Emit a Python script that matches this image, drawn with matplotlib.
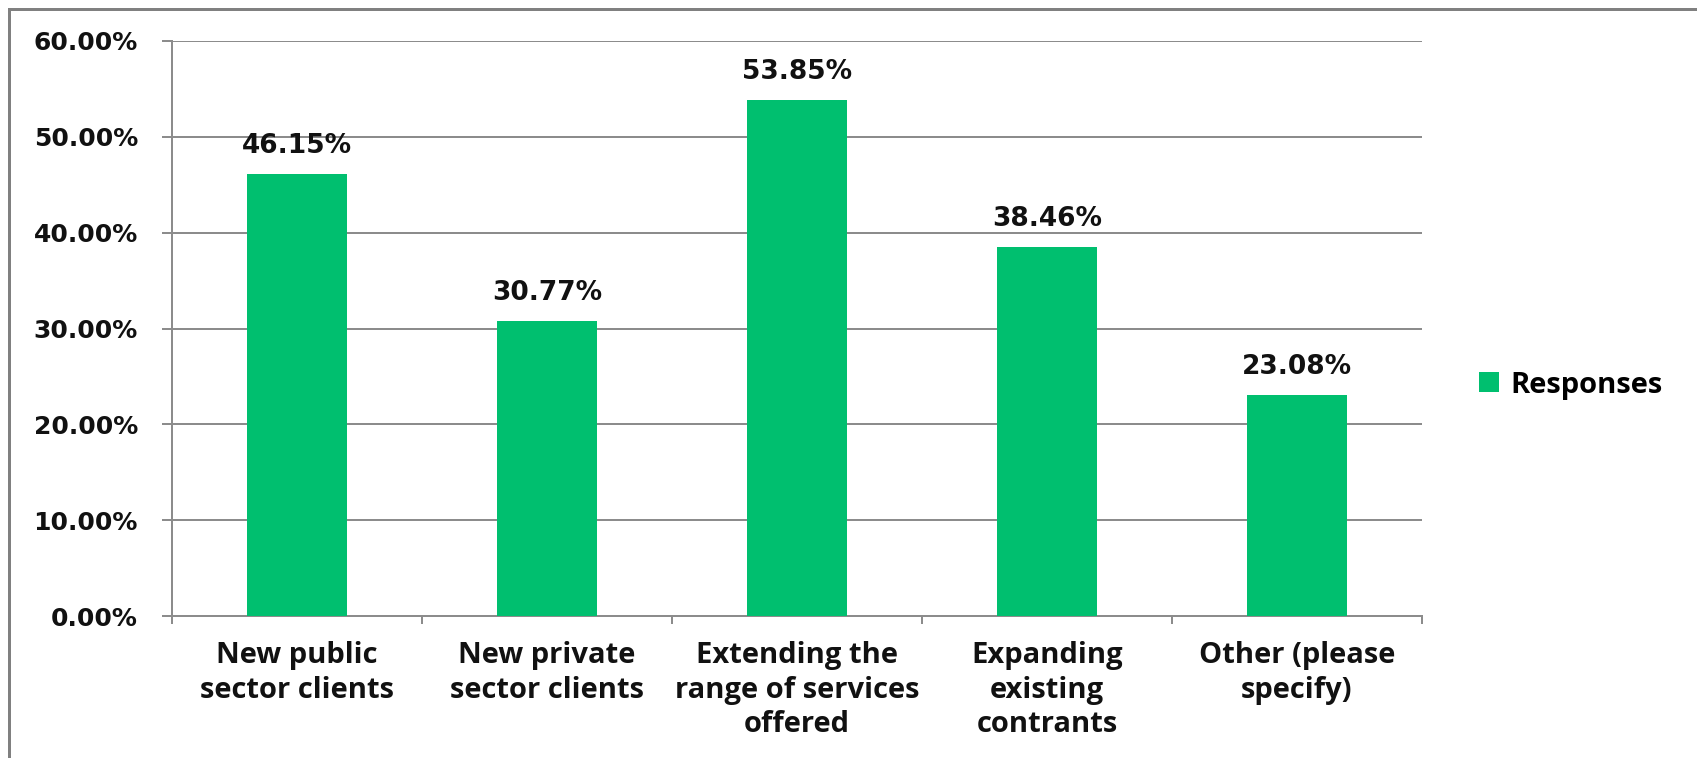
#!/usr/bin/env python3
"""Growth areas survey: share of responses per category."""

import matplotlib
matplotlib.use("Agg")
import matplotlib.pyplot as plt
from matplotlib.lines import Line2D
from matplotlib.ticker import FixedLocator, PercentFormatter
import numpy as np

categories = [
    "New public\nsector clients",
    "New private\nsector clients",
    "Extending the\nrange of services\noffered",
    "Expanding\nexisting\ncontrants",
    "Other (please\nspecify)",
]
responses = [46.15, 30.77, 53.85, 38.46, 23.08]
y_ticks = [0, 10, 20, 30, 40, 50, 60]

BAR_COLOR = "#00BF6F"
GRID_COLOR = "#8C8C8C"
NUM_FONT = "DejaVu Sans"
LABEL_FONT = "Open Sans"

W, H = 1697, 758
PX = 72 / 100  # points per pixel at dpi=100

fig = plt.figure(figsize=(W / 100, H / 100), dpi=100)
ax = fig.add_axes([172 / W, 1 - 616 / H, (1422 - 172) / W, (616 - 41) / H])

x = np.arange(len(categories))
bars = ax.bar(x, responses, width=0.4, color=BAR_COLOR, zorder=3, label="Responses")

ax.set_xlim(-0.5, len(categories) - 0.5)
ax.set_ylim(0, 60)

# value labels above bars
for rect, val in zip(bars, responses):
    ax.annotate(f"{val:.2f}%", (rect.get_x() + rect.get_width() / 2, val),
                xytext=(0, 21), textcoords="offset pixels", ha="center", va="baseline",
                fontsize=19, fontweight="bold", family=NUM_FONT, color="#111111")

# y axis: percentage ticks and gridlines
ax.yaxis.set_major_locator(FixedLocator(y_ticks))
ax.yaxis.set_major_formatter(PercentFormatter(decimals=2))
ax.grid(axis="y", color=GRID_COLOR, linewidth=2 * PX, zorder=0)
ax.tick_params(axis="y", length=10 * PX, width=2 * PX, color=GRID_COLOR, pad=24 * PX)
for lab in ax.get_yticklabels():
    lab.set_fontsize(18)
    lab.set_fontweight("bold")
    lab.set_family(NUM_FONT)
    lab.set_color("#111111")

# x axis: ticks between categories, labels at category centres
ax.xaxis.set_major_locator(FixedLocator(np.arange(len(categories) + 1) - 0.5))
ax.xaxis.set_major_formatter(plt.NullFormatter())
ax.xaxis.set_minor_locator(FixedLocator(x))
ax.set_xticklabels(categories, minor=True)
ax.tick_params(axis="x", which="major", length=8 * PX, width=2 * PX, color=GRID_COLOR)
ax.tick_params(axis="x", which="minor", length=0, pad=25 * PX)
for lab in ax.get_xticklabels(minor=True):
    lab.set_fontsize(21)
    lab.set_fontweight("bold")
    lab.set_family(LABEL_FONT)
    lab.set_color("#111111")
    lab.set_linespacing(1.26)
    lab.set_verticalalignment("top")

for side in ("top", "right"):
    ax.spines[side].set_visible(False)
for side in ("left", "bottom"):
    ax.spines[side].set_color(GRID_COLOR)
    ax.spines[side].set_linewidth(2 * PX)

leg = fig.legend(handles=[bars], labels=["Responses"], loc="center left",
                 bbox_to_anchor=(1479 / W, 1 - 385 / H), frameon=False,
                 handlelength=0.69, handleheight=0.69, handletextpad=0.38,
                 borderaxespad=0, borderpad=0,
                 prop={"family": LABEL_FONT, "weight": "bold", "size": 21})

# outer chart frame (left and top edges)
fig.add_artist(Line2D([9 / W, 9 / W], [0, 1 - 9 / H], color="#808080", linewidth=3 * PX))
fig.add_artist(Line2D([9 / W, 1], [1 - 9 / H, 1 - 9 / H], color="#808080", linewidth=3 * PX))

fig.savefig("out.png", dpi=100)
